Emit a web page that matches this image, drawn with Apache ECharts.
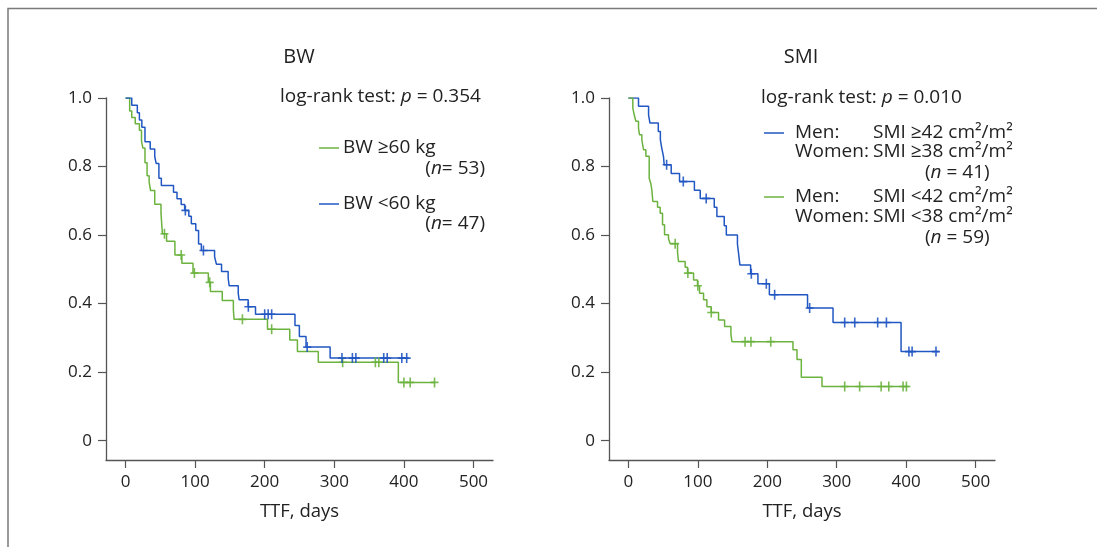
<!DOCTYPE html>
<html>
<head>
<meta charset="utf-8">
<script src="https://cdn.jsdelivr.net/npm/echarts@6/dist/echarts.min.js"></script>
<style>
html,body{margin:0;padding:0;background:#fff;}
#c{width:1097px;height:547px;}
</style>
</head>
<body>
<div id="c"></div>
<script>
// ---------- data ----------
const xTicks = [0, 100, 200, 300, 400, 500];
const yTicks = [0, 0.2, 0.4, 0.6, 0.8, 1.0];

// Left panel (BW)
const bwHighTimes = [0, 6, 9, 14, 20, 23, 25, 28, 31, 34, 36, 42, 51, 53, 59, 71, 81, 97, 119, 122, 139, 155, 156, 204, 236, 247, 277, 392, 445];
const bwHighSurv  = [1.0, 0.962, 0.943, 0.925, 0.906, 0.874, 0.854, 0.811, 0.773, 0.755, 0.730, 0.690, 0.664, 0.604, 0.582, 0.542, 0.518, 0.489, 0.462, 0.435, 0.409, 0.382, 0.354, 0.325, 0.294, 0.260, 0.229, 0.170, 0.170];
const bwHighCensor = [56, 80, 99, 121, 168, 210, 312, 359, 364, 400, 409, 444];

const bwLowTimes = [0, 9, 17, 20, 23.5, 28, 35.5, 42, 44, 48, 51.5, 69, 74, 80, 85, 91, 94.6, 101, 105, 109, 128, 130.6, 138, 147.5, 149, 162, 163.3, 176.3, 186.8, 243.5, 249.8, 259.4, 294, 407];
const bwLowSurv  = [1.0, 0.979, 0.957, 0.936, 0.915, 0.872, 0.851, 0.830, 0.809, 0.766, 0.745, 0.725, 0.706, 0.689, 0.672, 0.655, 0.633, 0.613, 0.574, 0.555, 0.537, 0.515, 0.494, 0.474, 0.452, 0.430, 0.411, 0.391, 0.369, 0.336, 0.304, 0.273, 0.241, 0.241];
const bwLowCensor = [86, 112, 176.5, 200, 205, 210, 261, 311, 326, 331, 371, 376, 397, 404];

// Right panel (SMI)
const smiHighTimes = [0, 14.5, 29, 31, 43, 46, 48, 50.5, 51.5, 61.6, 73.6, 95, 103.4, 123.6, 127.4, 138, 141, 157, 158.7, 160.5, 176, 186.5, 203, 258, 294.7, 392.7, 447];
const smiHighSurv  = [1.0, 0.976, 0.951, 0.927, 0.902, 0.878, 0.854, 0.829, 0.805, 0.780, 0.756, 0.731, 0.707, 0.681, 0.654, 0.627, 0.600, 0.574, 0.546, 0.513, 0.487, 0.458, 0.426, 0.387, 0.345, 0.260, 0.260];
const smiHighCensor = [55, 79, 112, 177, 198.6, 210.6, 261, 311.5, 326, 359, 371.6, 404, 408.6, 443];

const smiLowTimes = [0, 6.3, 8.3, 10.7, 14.5, 15.9, 19.3, 21.7, 25.1, 29.9, 32.3, 33.7, 35.2, 41.9, 45.7, 49.1, 52, 57.7, 60.1, 70.7, 72.1, 81.7, 85.1, 93.8, 99.5, 102.4, 108.2, 113, 119.3, 129.8, 138.5, 147.6, 149.1, 237, 242.8, 249, 278.8, 404];
const smiLowSurv  = [1.0, 0.971, 0.951, 0.932, 0.912, 0.893, 0.878, 0.849, 0.830, 0.766, 0.750, 0.732, 0.698, 0.681, 0.664, 0.630, 0.601, 0.589, 0.575, 0.550, 0.523, 0.506, 0.489, 0.469, 0.452, 0.430, 0.411, 0.391, 0.374, 0.352, 0.333, 0.311, 0.289, 0.265, 0.237, 0.185, 0.158, 0.158];
const smiLowCensor = [67.3, 85.6, 100, 119.3, 168, 176.5, 205, 311.5, 333, 364, 375, 395.6, 400.4];

const panelTitles = ['BW', 'SMI'];
const pValues = ['0.354', '0.010'];

// ---------- build ----------
const BLUE = '#2157c2';
const GREEN = '#6cb23f';
const AXIS = '#555';
const TXT = '#222';
const FONT = '"Open Sans", "Noto Sans", sans-serif';
const LF = 19; // legend font size

function pairs(t, s) { return t.map((v, i) => [v, s[i]]); }
function survAt(t, s, x) { let v = s[0]; for (let i = 0; i < t.length; i++) { if (t[i] <= x) v = s[i]; } return v; }
function censorPts(t, s, c) { return c.map(x => [x, survAt(t, s, x)]); }

const crossPath = 'path://M3.2,0H4.8V4.2H8V5.8H4.8V10H3.2V5.8H0V4.2H3.2Z';

function xAxisCfg(g) {
  return {
    gridIndex: g, type: 'value', min: -28, max: 528,
    axisLine: { show: true, onZero: false, lineStyle: { color: AXIS, width: 1.3 } },
    axisTick: { show: true, length: 8, customValues: xTicks, lineStyle: { color: AXIS, width: 1.2 } },
    axisLabel: { customValues: xTicks, fontSize: 17, color: TXT, fontFamily: FONT, margin: 14 },
    splitLine: { show: false },
    name: 'TTF, days', nameLocation: 'middle', nameGap: 42,
    nameTextStyle: { fontSize: 18.5, color: TXT, fontFamily: FONT }
  };
}
function yAxisCfg(g) {
  return {
    gridIndex: g, type: 'value', min: -0.0564, max: 1.0,
    axisLine: { show: true, onZero: false, lineStyle: { color: AXIS, width: 1.3 } },
    axisTick: { show: true, length: 8, customValues: yTicks, lineStyle: { color: AXIS, width: 1.2 } },
    axisLabel: { customValues: yTicks, fontSize: 17, color: TXT, fontFamily: FONT, margin: 14,
      formatter: v => (Math.abs(v) < 1e-9 ? '0' : v.toFixed(1)) },
    splitLine: { show: false }
  };
}
function lineSeries(g, t, s, color) {
  return { type: 'line', xAxisIndex: g, yAxisIndex: g, step: 'end', data: pairs(t, s),
    showSymbol: false, symbol: 'none', lineStyle: { color: color, width: 1.5 }, itemStyle: { color: color }, z: 2 };
}
function censorSeries(g, t, s, c, color) {
  return { type: 'scatter', xAxisIndex: g, yAxisIndex: g, data: censorPts(t, s, c),
    symbol: crossPath, symbolSize: [8, 10], itemStyle: { color: color, opacity: 0.9 }, z: 3 };
}

const richBase = {
  a: { fontSize: LF, fontFamily: FONT, color: TXT },
  i: { fontSize: LF, fontFamily: FONT, color: TXT, fontStyle: 'italic' },
  w: { width: 78, fontSize: LF, fontFamily: FONT, color: TXT }
};
function rt(x, y, text, align) {
  align = align || 'left';
  return { type: 'text', x: x, y: y, silent: true, style: {
    text: text, fontSize: LF, fontFamily: FONT, fill: TXT,
    align: align, textAlign: align, verticalAlign: 'middle', textVerticalAlign: 'middle', rich: richBase } };
}
function title(x, y, text) {
  return { type: 'text', x: x, y: y, silent: true, style: {
    text: text, fontSize: 20, fontFamily: FONT, fill: TXT,
    align: 'center', textAlign: 'center', verticalAlign: 'middle', textVerticalAlign: 'middle' } };
}
function seg(x1, x2, y, color) {
  return { type: 'line', shape: { x1: x1, y1: y, x2: x2, y2: y }, style: { stroke: color, lineWidth: 1.5 }, silent: true };
}

const graphic = [
  { type: 'polyline', shape: { points: [[8, 547], [8, 8.5], [1097, 8.5]] }, style: { stroke: '#7a7a7a', lineWidth: 1.5, fill: null }, silent: true },
  title(299, 57, panelTitles[0]),
  title(801, 57, panelTitles[1]),
  rt(280, 97, '{a|log-rank test: }{i|p}{a| = ' + pValues[0] + '}'),
  seg(319, 339, 148, GREEN),
  rt(343, 148, '{a|BW ≥60 kg}'),
  rt(485, 169, '{a|(}{i|n}{a|= 53)}', 'right'),
  seg(319, 339, 204, BLUE),
  rt(343, 204, '{a|BW <60 kg}'),
  rt(485, 224, '{a|(}{i|n}{a|= 47)}', 'right'),
  rt(761, 98, '{a|log-rank test: }{i|p}{a| = ' + pValues[1] + '}'),
  seg(764, 784, 133, BLUE),
  rt(795, 133, '{w|Men:}{a|SMI ≥42 cm²/m²}'),
  rt(795, 152, '{w|Women:}{a|SMI ≥38 cm²/m²}'),
  rt(925, 173, '{a|(}{i|n}{a| = 41)}'),
  seg(764, 784, 197, GREEN),
  rt(795, 197, '{w|Men:}{a|SMI <42 cm²/m²}'),
  rt(795, 217, '{w|Women:}{a|SMI <38 cm²/m²}'),
  rt(925, 238, '{a|(}{i|n}{a| = 59)}')
];

const option = {
  animation: false,
  backgroundColor: '#fff',
  grid: [
    { left: 106, width: 387, top: 98, height: 362 },
    { left: 609, width: 386, top: 98, height: 362 }
  ],
  xAxis: [xAxisCfg(0), xAxisCfg(1)],
  yAxis: [yAxisCfg(0), yAxisCfg(1)],
  series: [
    lineSeries(0, bwHighTimes, bwHighSurv, GREEN),
    lineSeries(0, bwLowTimes, bwLowSurv, BLUE),
    censorSeries(0, bwHighTimes, bwHighSurv, bwHighCensor, GREEN),
    censorSeries(0, bwLowTimes, bwLowSurv, bwLowCensor, BLUE),
    lineSeries(1, smiHighTimes, smiHighSurv, BLUE),
    lineSeries(1, smiLowTimes, smiLowSurv, GREEN),
    censorSeries(1, smiHighTimes, smiHighSurv, smiHighCensor, BLUE),
    censorSeries(1, smiLowTimes, smiLowSurv, smiLowCensor, GREEN)
  ],
  graphic: graphic
};

const chart = echarts.init(document.getElementById('c'), null, { renderer: 'canvas' });
chart.setOption(option);
</script>
</body>
</html>
